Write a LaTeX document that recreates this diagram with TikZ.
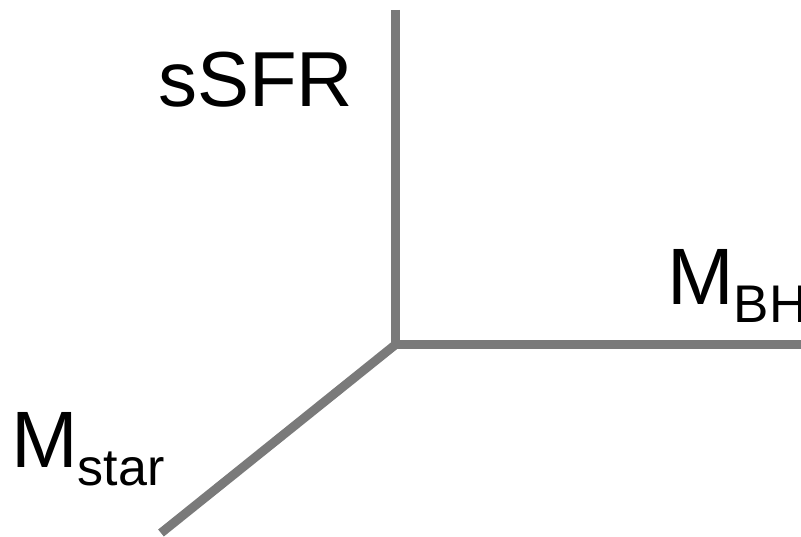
\documentclass[tikz,border=0pt]{standalone}
\usepackage{fontspec}
\setmainfont{Liberation Sans}
\definecolor{axisgray}{HTML}{7A7A7A}
\begin{document}
\begin{tikzpicture}[x=1pt,y=-1pt,
  axis/.style={draw=axisgray,line width=9pt},
  lbl/.style={inner sep=0pt,anchor=base west,text=black}]
\useasboundingbox (0,0) rectangle (801,537);
\coordinate (o) at (395,345);
\coordinate (top) at (395,10);
\coordinate (right) at (805,345);
\coordinate (low) at (161,533);
\draw[axis] (top) -- (o) -- (right);
\draw[axis] (o) -- (low);
\node[lbl] (ssfr) at (158,107) {\fontsize{78}{94}\selectfont sSFR};
\node[lbl] (mbh) at (667,305) {\fontsize{80}{96}\selectfont M\raisebox{-18pt}{\fontsize{53}{64}\selectfont BH}};
\node[lbl] (mstar) at (11,467) {\fontsize{80}{96}\selectfont M\raisebox{-18pt}{\fontsize{52}{62}\selectfont star}};
\end{tikzpicture}
\end{document}
